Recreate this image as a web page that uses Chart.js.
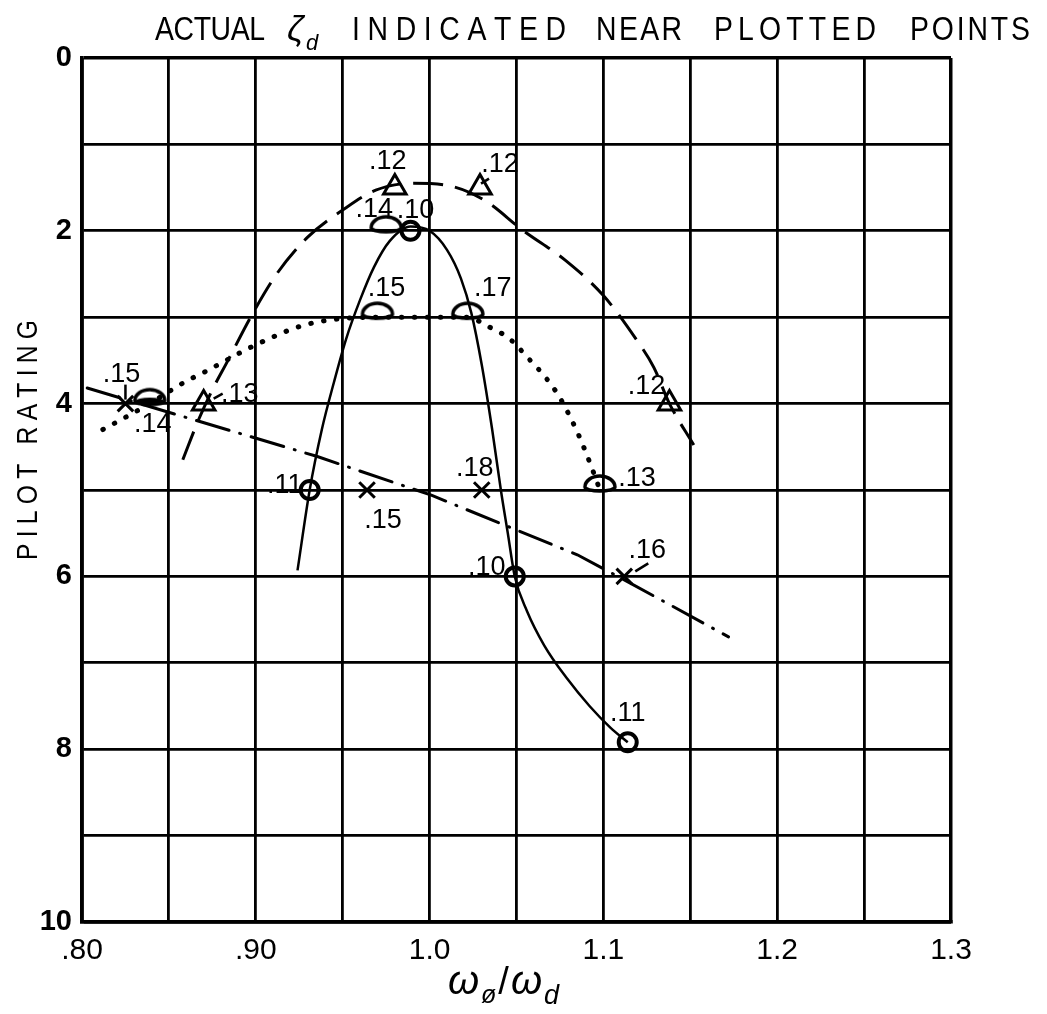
<!DOCTYPE html>
<html>
<head>
<meta charset="utf-8">
<script src="https://cdn.jsdelivr.net/npm/chart.js@4.4.1/dist/chart.umd.min.js"></script>
<style>
  html, body { margin: 0; padding: 0; background: #fff; }
  #wrap { width: 1047px; height: 1014px; }
</style>
</head>
<body>
<div id="wrap"><canvas id="ratingChart"></canvas></div>
<script>
// axis ticks
const xTicks = [0.80, 0.85, 0.90, 0.95, 1.00, 1.05, 1.10, 1.15, 1.20, 1.25, 1.30];
const xTickLabels = [".80", "", ".90", "", "1.0", "", "1.1", "", "1.2", "", "1.3"];
const yTicks = [0, 1, 2, 3, 4, 5, 6, 7, 8, 9, 10];
const yTickLabels = ["0", "", "2", "", "4", "", "6", "", "8", "", "10"];

// faired curves through the runs
const solidX = [0.924, 0.931, 0.938, 0.945, 0.952, 0.960, 0.968, 0.977, 0.989, 1.000, 1.010, 1.018, 1.024, 1.030, 1.036, 1.041, 1.045, 1.049, 1.056, 1.066, 1.079, 1.092, 1.104, 1.114];
const solidY = [5.93, 5.00, 4.30, 3.75, 3.25, 2.80, 2.42, 2.12, 1.95, 2.00, 2.22, 2.55, 2.95, 3.55, 4.30, 5.00, 5.50, 6.00, 6.40, 6.80, 7.18, 7.50, 7.75, 7.92];

const dashedX = [0.858, 0.867, 0.875, 0.884, 0.897, 0.912, 0.930, 0.950, 0.969, 0.990, 1.009, 1.031, 1.054, 1.078, 1.100, 1.119, 1.129, 1.138, 1.152];
const dashedY = [4.65, 4.19, 3.84, 3.50, 3.00, 2.50, 2.07, 1.76, 1.53, 1.45, 1.47, 1.64, 2.00, 2.34, 2.75, 3.26, 3.58, 4.00, 4.48];

const dottedX = [0.812, 0.824, 0.839, 0.850, 0.860, 0.870, 0.900, 0.930, 0.970, 1.022, 1.033, 1.046, 1.057, 1.066, 1.074, 1.080, 1.085, 1.090, 1.094, 1.098];
const dottedY = [4.30, 4.17, 4.00, 3.86, 3.74, 3.64, 3.32, 3.08, 3.00, 3.00, 3.10, 3.25, 3.48, 3.68, 3.90, 4.12, 4.33, 4.57, 4.78, 5.00];

const dashDotX = [0.803, 0.935, 1.001, 1.085, 1.112, 1.172];
const dashDotY = [3.82, 4.61, 5.06, 5.75, 6.04, 6.70];

// plotted points, actual damping ratio beside each
const circleX = [0.931, 0.989, 1.049, 1.114];
const circleY = [5, 2, 6, 7.92];
const circleZeta = [".11", ".10", ".10", ".11"];

const domeX = [0.839, 0.975, 0.970, 1.022, 1.098];
const domeY = [4, 2, 3, 3, 5];
const domeZeta = [".14", ".14", ".15", ".17", ".13"];

const triangleX = [0.870, 0.980, 1.029, 1.138];
const triangleY = [4, 1.5, 1.5, 4];
const triangleZeta = [".13", ".12", ".12", ".12"];

const crossX = [0.825, 0.964, 1.030, 1.112];
const crossY = [4, 5, 5, 6];
const crossZeta = [".15", ".15", ".18", ".16"];

// where each zeta label sits relative to its point (px), with an optional leader tick
const circleLabelAt = [[-25, -4], [5, -20], [-28, -9], [0, -29]];
const domeLabelAt = [[3, 21], [-12, -21], [9, -29], [25, -29], [37, -11]];
const triangleLabelAt = [[36, -9], [-7, -26], [20, -23], [-23, -17]];
const crossLabelAt = [[-4, -29], [16, 31], [-7, -21], [23, -26]];
const triangleLeader = [[10, -5, 19, -10], null, [9, -9, 1, -4], null];
const crossLeader = [[0, -19, 0, -4], null, null, [24, -13, 11, -5]];

const FONT = "'Liberation Sans', 'DejaVu Sans', sans-serif";

function pts(xs, ys) {
  return xs.map((x, i) => ({ x: x, y: ys[i] }));
}

// flat based half-ellipse symbol, base sits on the point
function makeDome(filled) {
  const c = document.createElement("canvas");
  c.width = 40;
  c.height = 44;
  const g = c.getContext("2d");
  g.strokeStyle = "#000";
  g.fillStyle = "#000";
  g.lineWidth = 3.5;
  g.beginPath();
  g.ellipse(20, 19, 15, 11, 0, Math.PI, 2 * Math.PI);
  g.ellipse(20, 19, 15, 4, 0, 0, Math.PI);
  g.closePath();
  g.stroke();
  if (filled) {
    g.beginPath();
    g.ellipse(20, 19, 15, 5, 0, 0, Math.PI);
    g.ellipse(20, 19, 14, 3, 0, Math.PI, 2 * Math.PI);
    g.closePath();
    g.fill();
  }
  return c;
}
const domeImg = makeDome(false);
const domeFilled = makeDome(true);

function lineSet(xs, ys, dash, width, cap) {
  return {
    type: "line",
    data: pts(xs, ys),
    borderColor: "#000",
    borderWidth: width,
    borderDash: dash,
    borderCapStyle: cap,
    cubicInterpolationMode: "monotone",
    pointRadius: 0,
    fill: false,
  };
}

function markerSet(xs, ys, zeta, at, leader, style, radius, width) {
  return {
    type: "scatter",
    data: pts(xs, ys),
    zeta: zeta,
    labelAt: at,
    leader: leader,
    pointStyle: style,
    pointRadius: radius,
    pointBorderWidth: width,
    pointBorderColor: "#000",
    pointBackgroundColor: "rgba(0,0,0,0)",
    showLine: false,
  };
}

const zetaLabels = {
  id: "zetaLabels",
  afterDatasetsDraw(chart) {
    const ctx = chart.ctx;
    ctx.save();
    ctx.fillStyle = "#000";
    ctx.strokeStyle = "#000";
    ctx.lineWidth = 2.5;
    ctx.font = "27px " + FONT;
    ctx.textAlign = "center";
    ctx.textBaseline = "middle";
    chart.data.datasets.forEach((ds, di) => {
      if (!ds.zeta) return;
      chart.getDatasetMeta(di).data.forEach((pt, i) => {
        ctx.fillText(ds.zeta[i], pt.x + ds.labelAt[i][0], pt.y + ds.labelAt[i][1]);
        const l = ds.leader && ds.leader[i];
        if (l) {
          ctx.beginPath();
          ctx.moveTo(pt.x + l[0], pt.y + l[1]);
          ctx.lineTo(pt.x + l[2], pt.y + l[3]);
          ctx.stroke();
        }
      });
    });
    ctx.restore();
  },
};

// narrow lettering spread over a given width
function spacedText(ctx, text, x, y, width, squeeze) {
  const sx = squeeze || 1;
  const chars = Array.from(text);
  let natural = 0;
  chars.forEach((ch) => (natural += ctx.measureText(ch).width * sx));
  const gap = (width - natural) / (chars.length - 1);
  chars.forEach((ch) => {
    ctx.save();
    ctx.translate(x, y);
    ctx.scale(sx, 1);
    ctx.fillText(ch, 0, 0);
    ctx.restore();
    x += ctx.measureText(ch).width * sx + gap;
  });
}

const paperText = {
  id: "paperText",
  afterDraw(chart) {
    const ctx = chart.ctx;
    ctx.save();
    ctx.fillStyle = "#000";
    ctx.textBaseline = "alphabetic";
    ctx.textAlign = "left";

    // heading with the zeta symbol
    ctx.font = "33px " + FONT;
    spacedText(ctx, "ACTUAL", 155, 40, 110, 0.86);
    ctx.font = "italic 36px " + FONT;
    ctx.fillText("ζ", 287, 41);
    ctx.font = "italic 22px " + FONT;
    ctx.fillText("d", 306, 50);
    ctx.font = "33px " + FONT;
    spacedText(ctx, "INDICATED", 352, 40, 214, 0.86);
    spacedText(ctx, "NEAR", 596, 40, 86, 0.86);
    spacedText(ctx, "PLOTTED", 714, 40, 162, 0.86);
    spacedText(ctx, "POINTS", 910, 40, 120, 0.86);

    // x axis title
    const a = chart.chartArea;
    const cx = (a.left + a.right) / 2 - 12;
    const parts = [
      ["ω", "italic 40px " + FONT, 0],
      ["ø", "italic 25px " + FONT, 9],
      ["/", "38px " + FONT, 0],
      ["ω", "italic 40px " + FONT, 0],
      ["d", "italic 27px " + FONT, 10],
    ];
    let total = 0;
    parts.forEach((p) => {
      ctx.font = p[1];
      total += ctx.measureText(p[0]).width + 2;
    });
    let x = cx - total / 2;
    parts.forEach((p) => {
      ctx.font = p[1];
      ctx.fillText(p[0], x, 994 + p[2]);
      x += ctx.measureText(p[0]).width + 2;
    });

    // y axis title
    ctx.translate(37, 440);
    ctx.rotate(-Math.PI / 2);
    ctx.font = "29px " + FONT;
    spacedText(ctx, "PILOT RATING", -120, 0, 240, 0.85);
    ctx.restore();
  },
};

const datasets = [
  lineSet(solidX, solidY, [], 2.5, "butt"),
  lineSet(dashedX, dashedY, [30, 12], 3, "butt"),
  lineSet(dottedX, dottedY, [0.5, 12.5], 5, "round"),
  Object.assign(lineSet(dashDotX, dashDotY, [34, 11, 1, 11], 3, "round"), { tension: 0, cubicInterpolationMode: "default" }),
  markerSet(circleX, circleY, circleZeta, circleLabelAt, null, "circle", 9, 4),
  markerSet(domeX, domeY, domeZeta, domeLabelAt, null, [domeFilled, domeImg, domeImg, domeImg, domeImg], 10, 1),
  markerSet(triangleX, triangleY, triangleZeta, triangleLabelAt, triangleLeader, "triangle", 13, 3),
  markerSet(crossX, crossY, crossZeta, crossLabelAt, crossLeader, "crossRot", 11, 3),
];

new Chart(document.getElementById("ratingChart"), {
  type: "scatter",
  data: { datasets: datasets },
  options: {
    responsive: true,
    maintainAspectRatio: false,
    animation: false,
    layout: { padding: { top: 58, right: 96, left: 0, bottom: 0 } },
    plugins: {
      legend: { display: false },
      tooltip: { enabled: false },
    },
    scales: {
      x: {
        type: "linear",
        min: 0.8,
        max: 1.3,
        afterFit: (s) => { s.height = 92; },
        afterBuildTicks: (s) => { s.ticks = xTicks.map((v) => ({ value: v })); },
        grid: {
          color: "#000",
          lineWidth: (c) => (c.tick && (c.tick.value === 1.3) ? 3.5 : 2.8),
          drawTicks: false,
        },
        border: { color: "#000", width: 3.5 },
        ticks: {
          color: "#000",
          padding: 11,
          autoSkip: false,
          maxRotation: 0,
          font: { family: FONT, size: 30 },
          callback: (v, i) => xTickLabels[i],
        },
      },
      y: {
        type: "linear",
        min: 0,
        max: 10,
        reverse: true,
        afterFit: (s) => { s.width = 82; },
        afterBuildTicks: (s) => { s.ticks = yTicks.map((v) => ({ value: v })); },
        grid: {
          color: "#000",
          lineWidth: (c) => (c.tick && c.tick.value === 0 ? 3.5 : 2.8),
          drawTicks: false,
        },
        border: { color: "#000", width: 3.5 },
        ticks: {
          color: "#000",
          padding: 10,
          autoSkip: false,
          font: { family: FONT, size: 29, weight: "bold" },
          callback: (v, i) => yTickLabels[i],
        },
      },
    },
  },
  plugins: [zetaLabels, paperText],
});
</script>
</body>
</html>
